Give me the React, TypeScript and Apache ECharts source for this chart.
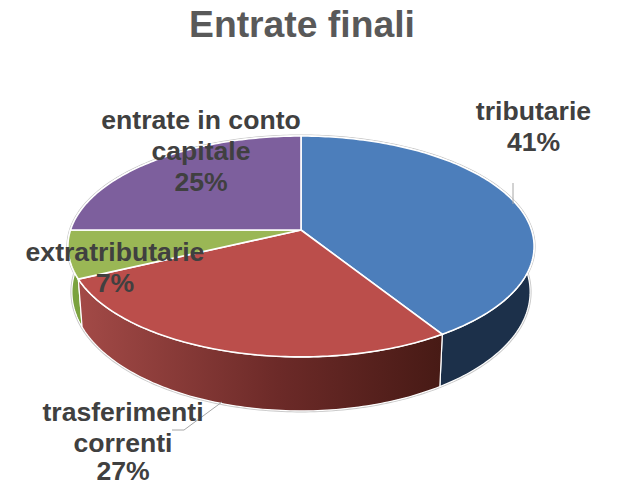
import React, { useEffect, useRef } from "react";
import * as echarts from "echarts";

const categories = ["tributarie", "trasferimenti correnti", "extratributarie", "entrate in conto capitale"];
const values = [41, 27, 7, 25];
const labelLines = [["tributarie"], ["trasferimenti", "correnti"], ["extratributarie"], ["entrate in conto", "capitale"]];
const titleText = "Entrate finali";

const topColors = ["#4c7ebb", "#bb4e4b", "#9ab755", "#7d5f9d"];
const labelPos = [[533.5, 110.5], [123, 412], [115, 251.5], [201, 119.5]];

const FONT = '"Liberation Sans", Arial, sans-serif';
const total = values.reduce((a, b) => a + b, 0);
const K = -0.149;

function rim(deg: number) {
  const t = (deg * Math.PI) / 180;
  const x = Math.sin(t);
  const y = -Math.cos(t);
  const d = 1 + K * y;
  return [301 + (230.5 * x) / d, 230 + (108 * y) / d];
}
function base(p: number[]) {
  return [301 + ((p[0] - 301) * 229) / 233, 292 + ((p[1] - 246.5) * 119) / 110.5];
}
function arc(from: number, to: number) {
  const n = Math.max(2, Math.ceil(to - from));
  const pts: number[][] = [];
  for (let i = 0; i <= n; i++) pts.push(rim(from + ((to - from) * i) / n));
  return pts;
}
function span(i: number) {
  const before = values.slice(0, i).reduce((a, b) => a + b, 0);
  return [(before / total) * 360, ((before + values[i]) / total) * 360];
}
function wallFill(i: number) {
  if (i === 1)
    return new echarts.graphic.LinearGradient(0, 0, 1, 0, [
      { offset: 0, color: "#a34a47" },
      { offset: 0.55, color: "#6c2a28" },
      { offset: 1, color: "#471a15" },
    ]);
  if (i === 0) return "#1c304a";
  if (i === 2) return "#7ba23f";
  return "#5d4578";
}

export default function App() {
  const ref = useRef<HTMLDivElement>(null);
  useEffect(() => {
    const chart = echarts.init(ref.current!, null, { renderer: "svg" });
    const data = values.map((v, i) => ({ name: categories[i], value: [i, v] }));
    const order = [3, 0, 2, 1];
    chart.setOption({
      animation: false,
      backgroundColor: "#ffffff",
      title: {
        text: titleText,
        left: 184,
        top: 0,
        textStyle: { fontFamily: FONT, fontSize: 37.3, fontWeight: "bold", color: "#595959" },
      },
      series: [
        {
          type: "custom",
          coordinateSystem: "none",
          silent: true,
          data: [0],
          renderItem: () => {
            const ring = arc(0, 360);
            return {
              type: "group",
              children: [
                { type: "polygon", shape: { points: ring }, style: { fill: "none", stroke: "#c8c8c8", lineWidth: 3 } },
                { type: "polygon", shape: { points: ring.map(base) }, style: { fill: "none", stroke: "#c8c8c8", lineWidth: 3 } },
              ],
            };
          },
        },
        {
          type: "custom",
          coordinateSystem: "none",
          silent: true,
          data: order.map((i) => data[i]),
          renderItem: (p: any) => {
            const i = order[p.dataIndex];
            const [a, b] = span(i);
            const top = arc(a, b);
            return {
              type: "polygon",
              shape: { points: [...top, ...top.map(base).reverse()] },
              style: { fill: wallFill(i), stroke: "#ffffff", lineWidth: 1.2 },
            };
          },
        },
        {
          type: "custom",
          coordinateSystem: "none",
          silent: true,
          data,
          renderItem: (p: any) => {
            const [a, b] = span(p.dataIndex);
            return {
              type: "polygon",
              shape: { points: [[301, 230], ...arc(a, b)] },
              style: { fill: topColors[p.dataIndex], stroke: "#ffffff", lineWidth: 1.6 },
            };
          },
        },
        {
          type: "custom",
          coordinateSystem: "none",
          silent: true,
          data,
          renderItem: (p: any) => {
            const i = p.dataIndex;
            const [x, y] = labelPos[i];
            const children: any[] = [];
            if (i === 0)
              children.push({ type: "polyline", shape: { points: [[513, 183], [513, 204]] }, style: { fill: "none", stroke: "#a6a6a6", lineWidth: 1 } });
            if (i === 1)
              children.push({ type: "polyline", shape: { points: [[222, 402], [184, 430], [172, 430]] }, style: { fill: "none", stroke: "#a6a6a6", lineWidth: 1 } });
            [...labelLines[i], `${values[i]}%`].forEach((line, n) => {
              children.push({
                type: "text",
                style: {
                  x,
                  y: Math.min(y + n * 31, 471),
                  text: line,
                  font: `bold 26.6px ${FONT}`,
                  fill: "#404040",
                  align: "center",
                  verticalAlign: "middle",
                },
              });
            });
            return { type: "group", children };
          },
        },
      ],
    });
    return () => chart.dispose();
  }, []);
  return <div ref={ref} style={{ position: "fixed", left: 0, top: 0, width: 621, height: 485 }} />;
}
